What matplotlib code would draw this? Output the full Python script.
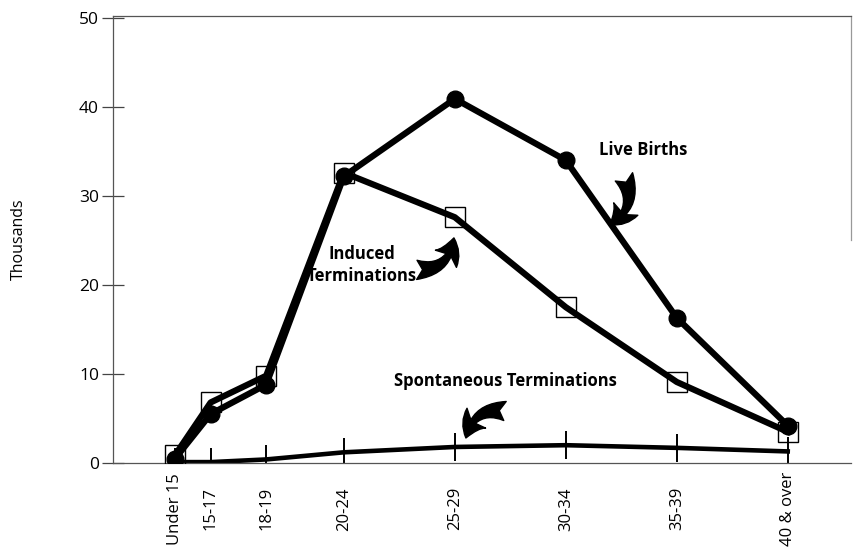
import matplotlib
matplotlib.use("Agg")
import matplotlib.pyplot as plt

plt.rcParams['font.family'] = ['Open Sans', 'DejaVu Sans']

# age groups and where they sit along the age scale
age_groups = ['Under 15', '15-17', '18-19', '20-24', '25-29', '30-34', '35-39', '40 & over']
age_pos = [14.4, 16.0, 18.5, 22.0, 27.0, 32.0, 37.0, 42.0]

# thousands
live_births = [0.5, 5.5, 8.8, 32.2, 40.9, 34.0, 16.3, 4.2]
induced = [0.9, 6.8, 9.8, 32.6, 27.6, 17.5, 9.1, 3.5]
spontaneous = [0.1, 0.1, 0.4, 1.2, 1.8, 2.0, 1.7, 1.3]

fig = plt.figure(figsize=(8.54, 5.5), dpi=100)
ax = fig.add_axes([113 / 854, 87 / 550, 738 / 854, 447 / 550])

# spontaneous line, with the age ticks drawn across it
ax.plot(age_pos, spontaneous, color='black', lw=3.3, marker='|',
        markersize=20, markeredgewidth=1.4, zorder=2)
ax.plot(age_pos, induced, color='black', lw=4.5, marker='s', markersize=14,
        markerfacecolor='none', markeredgecolor='black', markeredgewidth=1.0,
        zorder=3)
ax.plot(age_pos, live_births, color='black', lw=4.5, marker='o', markersize=12,
        zorder=4)

ax.set_xlim(11.6, 44.85)
ax.set_ylim(0, 50.2)

ax.set_yticks([0, 10, 20, 30, 40, 50])
ax.tick_params(axis='y', direction='inout', length=16, width=0.9, color='#444444',
               labelsize=12.5, pad=2)
ax.set_xticks(age_pos)
ax.set_xticklabels(age_groups, rotation=90, va='center', ha='center', fontsize=12)
ax.tick_params(axis='x', length=0, pad=33)

ax.set_ylabel('Thousands', fontsize=11.5)
ax.yaxis.set_label_coords(-0.117, 0.5)

for side in ['left', 'bottom', 'top']:
    ax.spines[side].set_color('#555555')
    ax.spines[side].set_linewidth(0.9)
ax.spines['right'].set_color('#999999')
ax.spines['right'].set_linewidth(0.9)
ax.spines['right'].set_bounds(25, 50.2)

# labels and curved arrows
ax.text(35.47, 35.2, 'Live Births', fontsize=12, fontweight='bold',
        ha='center', va='center')
ax.text(22.8, 22.2, 'Induced\nTerminations', fontsize=12, fontweight='bold',
        ha='center', va='center', linespacing=1.3)
ax.text(29.26, 9.2, 'Spontaneous Terminations', fontsize=12, fontweight='bold',
        ha='center', va='center')

arrow = 'fancy,head_length=0.7,head_width=0.85,tail_width=0.6'
ax.annotate('', xy=(33.99, 26.74), xytext=(34.62, 32.13),
            arrowprops=dict(arrowstyle=arrow, connectionstyle='arc3,rad=-0.45',
                            fc='black', ec='black', shrinkA=0, shrinkB=0,
                            mutation_scale=23))
ax.annotate('', xy=(26.96, 25.28), xytext=(25.29, 21.69),
            arrowprops=dict(arrowstyle=arrow, connectionstyle='arc3,rad=0.45',
                            fc='black', ec='black', shrinkA=0, shrinkB=0,
                            mutation_scale=23))
ax.annotate('', xy=(27.5, 2.81), xytext=(29.26, 5.84),
            arrowprops=dict(arrowstyle=arrow, connectionstyle='arc3,rad=0.45',
                            fc='black', ec='black', shrinkA=0, shrinkB=0,
                            mutation_scale=23))

fig.savefig('out.png', dpi=100)
